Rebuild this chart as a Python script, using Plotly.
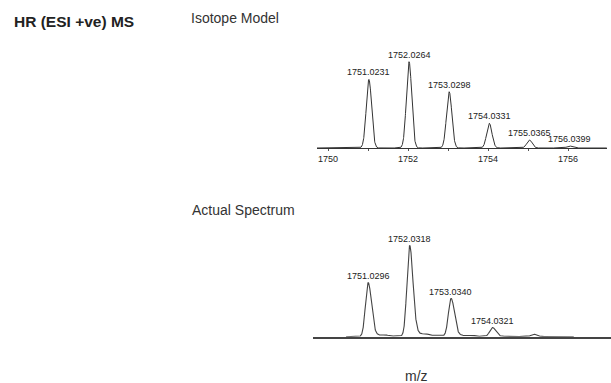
import numpy as np
import plotly.graph_objects as go

W, H = 611, 383

# Isotope model: centroid m/z and relative intensity
model_mz = [1751.0231, 1752.0264, 1753.0298, 1754.0331, 1755.0365, 1756.0399]
model_int = [79.6, 100.0, 65.2, 28.6, 9.3, 2.3]
model_labels = ["1751.0231", "1752.0264", "1753.0298", "1754.0331", "1755.0365", "1756.0399"]

# Measured spectrum: peak m/z and relative intensity
actual_mz = [1751.0296, 1752.0318, 1753.0340, 1754.0321, 1755.0300]
actual_int = [59.5, 100.0, 41.6, 9.9, 2.6]
actual_labels = ["1751.0296", "1752.0318", "1753.0340", "1754.0321", ""]

# small background signals in the measured trace
minor_mz = [1750.75, 1751.45, 1752.42, 1753.55, 1755.45]
minor_int = [0.6, 0.9, 1.1, 0.7, 0.4]

axis_ticks = [1750, 1751, 1752, 1753, 1754, 1755, 1756]
axis_ticktext = ["1750", "", "1752", "", "1754", "", "1756"]


def px_x(p):
    return p / W


def px_y(p):
    return 1 - p / H


def gauss_profile(x, centers, heights, sigma):
    y = np.zeros_like(x)
    for c, h in zip(centers, heights):
        y += h * np.exp(-0.5 * ((x - c) / sigma) ** 2)
    return y


def measured_profile(x, centers, heights):
    y = np.zeros_like(x)
    for c, h in zip(centers, heights):
        d = x - c
        s = np.where(d < 0, 0.062, 0.08)
        y += h * np.exp(-0.5 * (d / s) ** 2)
        # tailing on the high-mass side
        tail = np.where(d > 0, 0.06 * h * np.exp(-d / 0.4) * (1 - np.exp(-d / 0.06)), 0.0)
        y += tail
    y += gauss_profile(x, minor_mz, minor_int, 0.05)
    return y


x_model = np.linspace(1749.72, 1756.97, 3000)
y_model = gauss_profile(x_model, model_mz, model_int, 0.066)

x_act = np.linspace(1750.5, 1756.0, 3000)
y_act = measured_profile(x_act, actual_mz, actual_int)

fig = go.Figure()
fig.add_trace(go.Scatter(x=x_model, y=y_model, mode="lines",
                         line=dict(color="#333333", width=1),
                         xaxis="x", yaxis="y", hoverinfo="skip"))
fig.add_trace(go.Scatter(x=x_act, y=y_act, mode="lines",
                         line=dict(color="#444444", width=1.1),
                         xaxis="x2", yaxis="y2", hoverinfo="skip"))

font_fam = "Arial, Liberation Sans, sans-serif"
annotations = []
for m, v, t in zip(model_mz, model_int, model_labels):
    annotations.append(dict(x=m, y=v, xref="x", yref="y", text=t, showarrow=False,
                            yanchor="bottom", xanchor="center", yshift=0,
                            font=dict(family=font_fam, size=9, color="#222222")))
for m, v, t in zip(actual_mz, actual_int, actual_labels):
    if t:
        annotations.append(dict(x=m, y=v, xref="x2", yref="y2", text=t, showarrow=False,
                                yanchor="bottom", xanchor="center", yshift=0,
                                font=dict(family=font_fam, size=9, color="#222222")))

annotations += [
    dict(x=px_x(12), y=px_y(22), xref="paper", yref="paper", text="<b>HR (ESI +ve) MS</b>",
         showarrow=False, xanchor="left", yanchor="middle",
         font=dict(family=font_fam, size=15.5, color="#222222")),
    dict(x=px_x(189), y=px_y(18.5), xref="paper", yref="paper", text="Isotope Model",
         showarrow=False, xanchor="left", yanchor="middle",
         font=dict(family=font_fam, size=14, color="#333333")),
    dict(x=px_x(189.5), y=px_y(209.5), xref="paper", yref="paper", text="Actual Spectrum",
         showarrow=False, xanchor="left", yanchor="middle",
         font=dict(family=font_fam, size=14, color="#333333")),
    dict(x=px_x(417), y=px_y(376), xref="paper", yref="paper", text="m/z",
         showarrow=False, xanchor="center", yanchor="middle",
         font=dict(family=font_fam, size=14, color="#333333")),
]

fig.update_layout(
    width=W, height=H,
    margin=dict(l=0, r=0, t=0, b=0),
    paper_bgcolor="white", plot_bgcolor="rgba(0,0,0,0)",
    showlegend=False,
    annotations=annotations,
    xaxis=dict(domain=[px_x(317), px_x(607)], range=[1749.725, 1756.975], anchor="y",
               showgrid=False, zeroline=False, showline=True, linecolor="#333333", linewidth=1,
               tickvals=axis_ticks, ticktext=axis_ticktext, ticks="outside", ticklen=2,
               tickcolor="#555555", tickwidth=1, ticklabelstandoff=0,
               tickfont=dict(family=font_fam, size=9, color="#222222")),
    yaxis=dict(domain=[px_y(148), px_y(48)], range=[0, 115.9], anchor="x",
               visible=False, showgrid=False, zeroline=False),
    xaxis2=dict(domain=[px_x(312.7), 1.0], range=[1749.694, 1756.899], anchor="y2",
                showgrid=False, zeroline=False, showline=True, linecolor="#444444", linewidth=2,
                showticklabels=False, ticks=""),
    yaxis2=dict(domain=[px_y(336.7), px_y(236.7)], range=[0, 110.3], anchor="x2",
                visible=False, showgrid=False, zeroline=False),
)

fig.write_html("out.html")
